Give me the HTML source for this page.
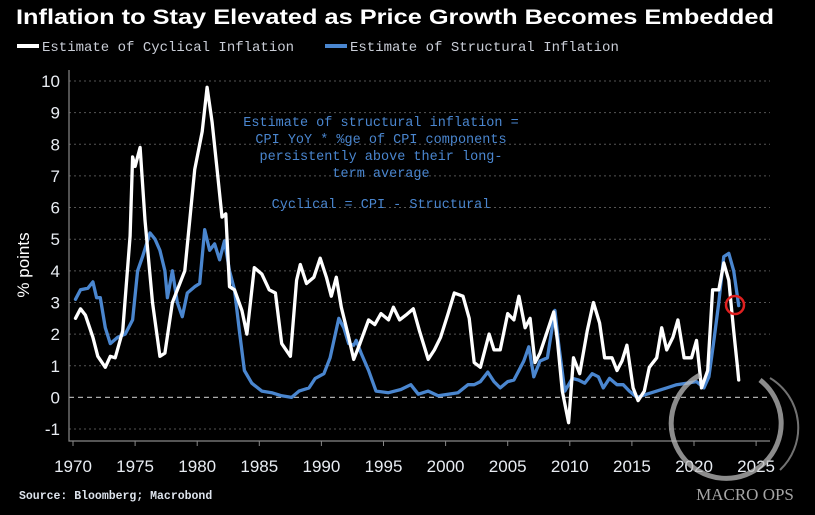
<!DOCTYPE html>
<html><head><meta charset="utf-8"><style>
html,body{margin:0;padding:0;background:#000;}
body{width:815px;height:515px;overflow:hidden;position:relative;font-family:"Liberation Sans",sans-serif;}
svg{position:absolute;left:0;top:0;}
</style></head><body>
<svg id="chart" width="815" height="515">
  <text x="16" y="24" fill="#fff" font-size="21" font-weight="bold" font-family="Liberation Sans, sans-serif" textLength="758" lengthAdjust="spacingAndGlyphs">Inflation to Stay Elevated as Price Growth Becomes Embedded</text>
  <g>
    <rect x="17" y="44" width="22" height="4" fill="#fff"/>
    <text x="42" y="51" fill="#c9cdd6" font-size="14" font-family="Liberation Mono, monospace">Estimate of Cyclical Inflation</text>
    <rect x="325" y="44" width="22" height="4" fill="#4a86cf"/>
    <text x="350" y="51" fill="#c9cdd6" font-size="14" font-family="Liberation Mono, monospace">Estimate of Structural Inflation</text>
  </g>
  <g id="grid"></g>
  <g id="axes"></g>
  <text transform="translate(29,265) rotate(-90)" text-anchor="middle" fill="#fff" font-size="17">% points</text>
  <g fill="#4a86cf" font-size="13.5" font-family="Liberation Mono, monospace" text-anchor="middle">
    <text x="381" y="126">Estimate of structural inflation =</text>
    <text x="381" y="143">CPI YoY * %ge of CPI components</text>
    <text x="381" y="160">persistently above their long-</text>
    <text x="381" y="177">term average</text>
    <text x="381" y="208">Cyclical = CPI - Structural</text>
  </g>
  <g id="series"></g>
  <circle cx="735" cy="305" r="9" fill="none" stroke="#e02020" stroke-width="2.5"/>
  <g opacity="0.75">
    <path d="M700,375 A55,55 0 1,0 760,380" fill="none" stroke="#bbb" stroke-width="5"/>
    <path d="M770,378 A58,58 0 0,1 780,470" fill="none" stroke="#999" stroke-width="2"/>
    <text x="745" y="500" text-anchor="middle" fill="#ddd" font-size="17" font-family="Liberation Serif, serif">MACRO OPS</text>
  </g>
  <text x="19" y="499" fill="#dde3ec" font-size="11.5" font-weight="bold" font-family="Liberation Mono, monospace">Source: Bloomberg; Macrobond</text>
</svg>
<script>
const yTicks=[10,9,8,7,6,5,4,3,2,1,0,-1];
const xTicks=[1970,1975,1980,1985,1990,1995,2000,2005,2010,2015,2020,2025];
const cycYears=[1970.2,1970.6,1971.0,1971.6,1972.0,1972.6,1973.0,1973.4,1974.0,1974.6,1974.8,1975.0,1975.4,1975.8,1976.4,1977.0,1977.4,1978.0,1979.0,1979.8,1980.4,1980.8,1981.2,1981.6,1982.0,1982.3,1982.6,1983.0,1983.6,1984.0,1984.6,1985.2,1985.8,1986.3,1986.8,1987.5,1988.0,1988.3,1988.8,1989.4,1989.9,1990.4,1990.8,1991.2,1991.6,1992.2,1992.6,1993.1,1993.8,1994.3,1994.8,1995.4,1995.8,1996.3,1996.8,1997.4,1997.9,1998.6,1999.1,1999.6,2000.2,2000.7,2001.4,2001.9,2002.3,2002.8,2003.5,2003.9,2004.4,2005.0,2005.5,2005.9,2006.4,2006.8,2007.2,2007.6,2008.2,2008.7,2009.0,2009.4,2009.9,2010.3,2010.8,2011.4,2011.9,2012.4,2012.8,2013.4,2013.8,2014.2,2014.6,2015.1,2015.5,2016.0,2016.4,2017.0,2017.4,2017.8,2018.3,2018.7,2019.2,2019.8,2020.2,2020.6,2021.1,2021.5,2022.0,2022.4,2022.8,2023.2,2023.5,2023.6];
const cycVals=[2.5,2.8,2.6,1.9,1.3,0.95,1.3,1.25,2.1,5.1,7.6,7.3,7.9,5.6,3.0,1.3,1.4,3.0,4.0,7.2,8.4,9.8,8.7,7.2,5.7,5.8,3.5,3.4,2.75,2.0,4.1,3.9,3.4,3.3,1.7,1.3,3.7,4.2,3.6,3.8,4.4,3.8,3.2,3.8,2.85,1.9,1.2,1.7,2.45,2.3,2.65,2.45,2.85,2.45,2.6,2.8,2.1,1.2,1.5,1.9,2.65,3.3,3.2,2.5,1.1,0.95,2.0,1.5,1.5,2.65,2.45,3.2,2.2,2.5,1.1,1.4,2.1,2.7,1.8,0.2,-0.8,1.25,0.75,2.1,3.0,2.35,1.25,1.25,0.85,1.15,1.65,0.3,-0.1,0.2,0.95,1.25,2.2,1.5,1.9,2.45,1.25,1.25,1.8,0.3,0.85,3.4,3.4,4.25,3.7,2.1,0.95,0.55];
const strYears=[1970.2,1970.6,1971.2,1971.6,1971.9,1972.2,1972.6,1973.0,1973.6,1974.2,1974.8,1975.2,1975.6,1976.2,1976.6,1977.0,1977.4,1977.6,1978.0,1978.4,1978.8,1979.2,1979.8,1980.2,1980.6,1981.0,1981.4,1981.8,1982.2,1982.6,1983.0,1983.4,1983.8,1984.4,1985.2,1986.0,1986.8,1987.6,1988.2,1989.0,1989.5,1990.2,1990.7,1991.4,1991.8,1992.2,1992.6,1992.8,1993.2,1993.8,1994.4,1995.4,1996.4,1997.2,1997.8,1998.6,1999.4,2000.2,2001.0,2001.8,2002.3,2002.8,2003.4,2003.9,2004.4,2005.0,2005.5,2005.9,2006.3,2006.7,2007.1,2007.6,2008.2,2008.8,2009.1,2009.6,2010.2,2010.7,2011.2,2011.8,2012.3,2012.7,2013.2,2013.8,2014.3,2014.8,2015.4,2016.2,2017.0,2017.8,2018.6,2019.4,2020.2,2020.8,2021.2,2021.6,2022.0,2022.4,2022.8,2023.2,2023.6];
const strVals=[3.1,3.4,3.45,3.65,3.15,3.15,2.2,1.7,1.9,2.0,2.45,4.0,4.45,5.2,5.0,4.65,4.0,3.15,4.0,3.0,2.55,3.3,3.5,3.6,5.3,4.65,4.85,4.35,4.95,4.0,3.4,2.1,0.85,0.45,0.2,0.15,0.05,0.0,0.2,0.3,0.6,0.75,1.25,2.5,2.2,1.7,1.65,1.8,1.4,0.85,0.2,0.15,0.25,0.4,0.1,0.2,0.05,0.1,0.15,0.4,0.4,0.5,0.8,0.5,0.3,0.5,0.55,0.85,1.15,1.6,0.65,1.15,1.25,2.75,1.7,0.2,0.6,0.55,0.45,0.75,0.65,0.3,0.6,0.4,0.4,0.2,0.0,0.1,0.2,0.3,0.4,0.45,0.5,0.3,0.65,1.8,3.0,4.45,4.55,4.0,2.9];

const NS='http://www.w3.org/2000/svg';
const X0=69,X1=770,YB=441;
function x(yr){return 73+(yr-1970)*12.42;}
function y(v){return 397.4-v*31.64;}
function mk(tag,attrs,parent){const e=document.createElementNS(NS,tag);for(const k in attrs)e.setAttribute(k,attrs[k]);parent.appendChild(e);return e;}
const grid=document.getElementById('grid'),axes=document.getElementById('axes'),series=document.getElementById('series');
yTicks.forEach(v=>{
  const l=mk('line',{x1:X0,x2:X1,y1:y(v),y2:y(v),stroke:v===0?'#aaa':'#555','stroke-width':v===0?1.2:1,'stroke-dasharray':v===0?'5,4':'2,3'},grid);
  
  
  const t=mk('text',{x:60,y:y(v)+6,'text-anchor':'end',fill:'#e8ecf2','font-size':17},axes);
  t.textContent=v;
  
  
});
const ax=mk('path',{d:`M${X0},70 L${X0},${YB} L${X1},${YB}`,fill:'none',stroke:'#888','stroke-width':1.2},axes);


xTicks.forEach(v=>{
  const tk=mk('line',{x1:x(v),x2:x(v),y1:YB,y2:YB+5,stroke:'#888'},axes);
  
  
  const t=mk('text',{x:x(v),y:YB+31,'text-anchor':'middle',fill:'#e8ecf2','font-size':17},axes);
  t.textContent=v;
  
  
});
function line(xs,vs,color,name){
  const d=xs.map((yr,i)=>(i?'L':'M')+x(yr).toFixed(1)+','+y(vs[i]).toFixed(1)).join(' ');
  const p=mk('path',{d:d,fill:'none',stroke:color,'stroke-width':3.3,'stroke-linejoin':'round','stroke-linecap':'round'},series);
  
  
}
line(strYears,strVals,'#4a86cf','structural-inflation-line');
line(cycYears,cycVals,'#ffffff','cyclical-inflation-line');
</script>
</body></html>
